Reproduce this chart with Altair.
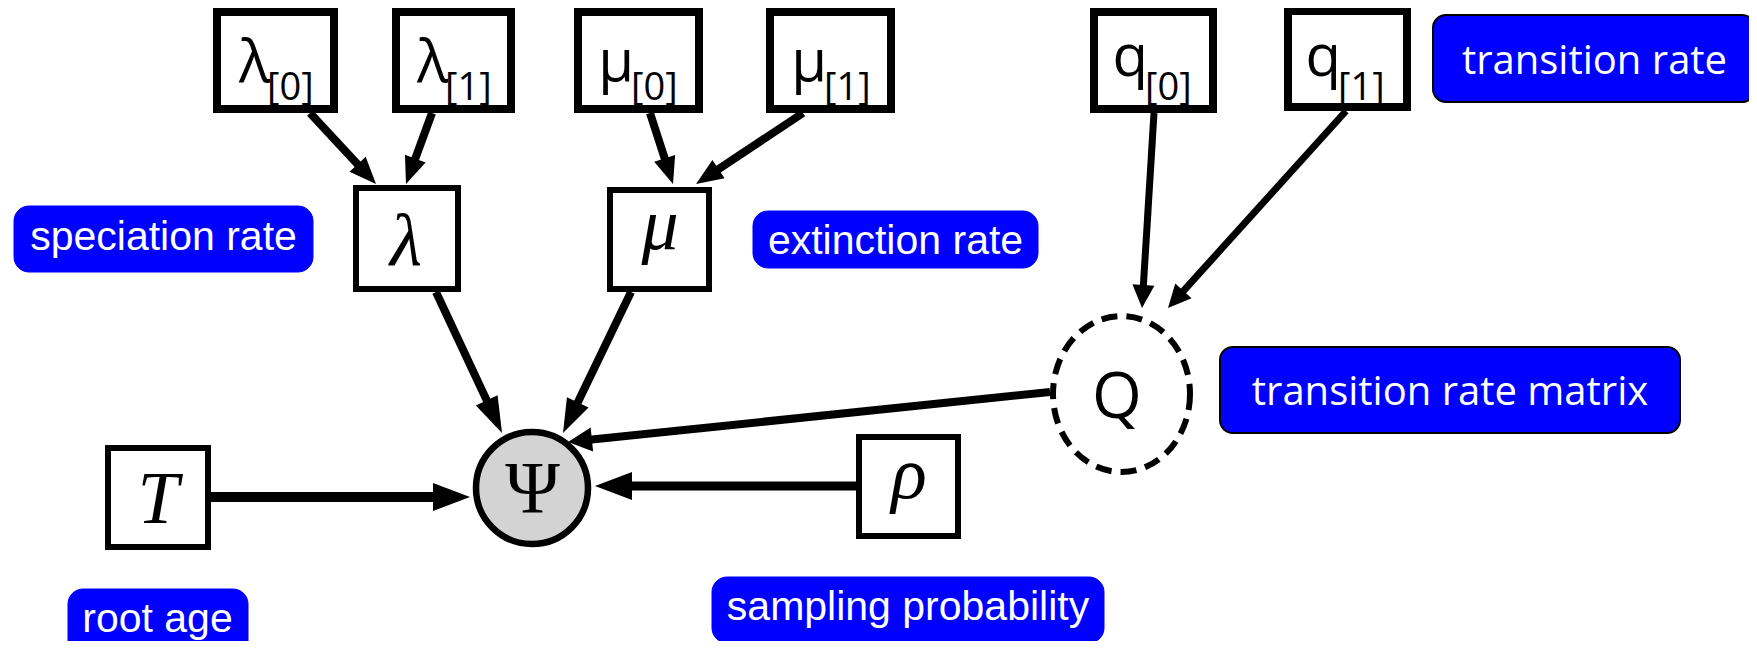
import math
import altair as alt
import pandas as pd

# ---------------- data (diagram coordinates, pixels of the 1757x649 figure) ----------------
box_names = ["λ[0]", "λ[1]", "μ[0]", "μ[1]", "q[0]", "q[1]", "λ", "μ", "T", "ρ"]
box_x0 = [213, 392, 574, 766, 1090, 1284, 353, 607, 105, 856]
box_x1 = [338, 515, 703, 895, 1217, 1411, 461, 712, 211, 961]
box_y0 = [8, 8, 8, 8, 8, 7, 185, 187, 445, 434]
box_y1 = [113, 113, 113, 113, 113, 111, 292, 292, 550, 539]
box_kind = ["top"] * 6 + ["mid"] * 4

# subscripted parameter labels in the top row
top_main = ["λ", "λ", "μ", "μ", "q", "q"]
top_sub = ["[0]", "[1]", "[0]", "[1]", "[0]", "[1]"]
top_split_x = [269, 447, 633, 826, 1147, 1340]
top_main_base = [82, 82, 81, 81, 76, 76]
top_sub_base = [100, 100, 100, 100, 100, 100]

# math symbols in the middle/bottom nodes
sym_text = ["λ", "μ", "T", "ρ", "Ψ"]
sym_x = [406, 660, 158, 909, 532.5]
sym_base = [265, 249, 523, 498, 513]
sym_italic = [True, True, True, True, False]

# the observed node Psi and the deterministic node Q
psi_center = (532, 488)
q_center = (1121.5, 394)

# arrows: start -> tip
arrow_from = ["λ[0]", "λ[1]", "μ[0]", "μ[1]", "λ", "μ", "Q", "T", "ρ", "q[0]", "q[1]"]
arrow_to = ["λ", "λ", "μ", "μ", "Ψ", "Ψ", "Ψ", "Ψ", "Ψ", "Q", "Q"]
arrow_x0 = [310, 432, 650, 803, 436, 631, 1050, 211, 857, 1154, 1346]
arrow_y0 = [113, 113, 113, 113, 292, 292, 392, 497, 486, 113, 111]
arrow_x1 = [376, 406, 673, 696, 502, 563, 568, 470, 595, 1142, 1168]
arrow_y1 = [184, 184, 184, 184, 433, 433, 442, 497, 486, 308, 308]

# blue annotation labels
label_text = ["speciation rate", "extinction rate", "transition rate",
              "transition rate matrix", "root age", "sampling probability"]
label_x0 = [14, 753, 1433, 1220, 68, 712]
label_x1 = [313, 1038, 1755, 1680, 248, 1104]
label_y0 = [206, 211, 15, 347, 589, 577]
label_y1 = [272, 268, 102, 433, 668, 643]
label_cx = [163.5, 895.5, 1594.5, 1450, 157.5, 908]
label_base = [250, 254, 74, 405, 632, 620]
label_font = ["arial", "arial", "calibri", "calibri", "arial", "arial"]

# ---------------- styles ----------------
BOX_STROKE = {"top": 8, "mid": 6}
ARROW_WIDTH = [8, 8, 8, 8, 8, 8, 8, 10, 9, 7, 7]
HEAD_LEN = [27, 27, 27, 27, 36, 34, 24, 37, 37, 23, 23]
HEAD_W = [22, 22, 22, 22, 24, 24, 24, 28, 28, 22, 22]

W, H = 1741, 633
OFF = 8
xs = alt.Scale(domain=[OFF, OFF + W], nice=False, zero=False)
ys = alt.Scale(domain=[OFF, OFF + H], nice=False, zero=False, reverse=True)


def X(f):
    return alt.X(f, type="quantitative", scale=xs, axis=None)


def Y(f):
    return alt.Y(f, type="quantitative", scale=ys, axis=None)


# ---------------- tables ----------------
boxes = pd.DataFrame({"name": box_names, "x0": box_x0, "x1": box_x1,
                      "y0": box_y0, "y1": box_y1, "kind": box_kind})
boxes["sw"] = boxes["kind"].map(BOX_STROKE)
boxes["ix0"] = boxes["x0"] + boxes["sw"] / 2
boxes["ix1"] = boxes["x1"] - boxes["sw"] / 2
boxes["iy0"] = boxes["y0"] + boxes["sw"] / 2
boxes["iy1"] = boxes["y1"] - boxes["sw"] / 2

rows_line, rows_head = [], []
for i in range(len(arrow_from)):
    x0, y0, x1, y1 = arrow_x0[i], arrow_y0[i], arrow_x1[i], arrow_y1[i]
    dx, dy = x1 - x0, y1 - y0
    L = math.hypot(dx, dy)
    ux, uy = dx / L, dy / L
    hl = HEAD_LEN[i]
    rows_line.append({"x0": x0, "y0": y0, "x1": x1 - ux * hl * 0.8,
                      "y1": y1 - uy * hl * 0.8, "w": ARROW_WIDTH[i]})
    ang = math.degrees(math.atan2(dx, -dy)) % 360
    h = HEAD_W[i] / hl
    shape = f"M0,0 L{-h:.3f},2 L{h:.3f},2 Z"
    rows_head.append({"x": x1, "y": y1, "angle": ang, "shape": shape, "size": hl * hl})
lines = pd.DataFrame(rows_line)
heads = pd.DataFrame(rows_head)

labels = pd.DataFrame({"text": label_text, "x0": label_x0, "x1": label_x1,
                       "y0": label_y0, "y1": label_y1, "cx": label_cx,
                       "base": label_base, "font": label_font})

tops = pd.DataFrame({"main": top_main, "sub": top_sub, "x": top_split_x,
                     "mb": top_main_base, "sb": top_sub_base})
syms = pd.DataFrame({"text": sym_text, "x": sym_x, "y": sym_base, "italic": sym_italic})

# ---------------- layers ----------------
lab_rect_a = alt.Chart(labels[labels.font == "arial"]).mark_rect(
    fill="#0000ff", cornerRadius=15, stroke="#0000ff", strokeWidth=1
).encode(x=X("x0"), x2="x1", y=Y("y0"), y2="y1")
lab_rect_c = alt.Chart(labels[labels.font == "calibri"]).mark_rect(
    fill="#0000ff", cornerRadius=13, stroke="black", strokeWidth=2
).encode(x=X("x0"), x2="x1", y=Y("y0"), y2="y1")
lab_text_a = alt.Chart(labels[labels.font == "arial"]).mark_text(
    font="Liberation Sans", fontSize=41, color="white", align="center", baseline="alphabetic"
).encode(x=X("cx"), y=Y("base"), text="text:N")
lab_text_c = alt.Chart(labels[labels.font == "calibri"]).mark_text(
    font="Open Sans", fontSize=40, color="white", align="center", baseline="alphabetic"
).encode(x=X("cx"), y=Y("base"), text="text:N")

rules = alt.Chart(lines).mark_rule(color="black", strokeCap="butt").encode(
    x=X("x0"), y=Y("y0"), x2="x1", y2="y1",
    strokeWidth=alt.StrokeWidth("w:Q", scale=None))

rects = alt.Chart(boxes).mark_rect(fill="white", stroke="black").encode(
    x=X("ix0"), x2="ix1", y=Y("iy0"), y2="iy1",
    strokeWidth=alt.StrokeWidth("sw:Q", scale=None))

psi = alt.Chart(pd.DataFrame({"x": [psi_center[0]], "y": [psi_center[1]]})).mark_point(
    shape="circle", size=112 ** 2, fill="#d3d3d3", stroke="black", strokeWidth=6.5,
    opacity=1, fillOpacity=1
).encode(x=X("x"), y=Y("y"))

a = 68.5 / 78
k = 0.5523
ell = (f"M{a:.4f},0 C{a:.4f},{k:.4f} {a*k:.4f},1 0,1 C{-a*k:.4f},1 {-a:.4f},{k:.4f} {-a:.4f},0 "
       f"C{-a:.4f},{-k:.4f} {-a*k:.4f},-1 0,-1 C{a*k:.4f},-1 {a:.4f},{-k:.4f} {a:.4f},0 Z")
qnode = alt.Chart(pd.DataFrame({"x": [q_center[0]], "y": [q_center[1]]})).mark_point(
    shape=ell, size=(2 * 78) ** 2, fill="white", stroke="black", strokeWidth=6,
    strokeDash=[16, 9], opacity=1, fillOpacity=1
).encode(x=X("x"), y=Y("y"))

head_marks = alt.Chart(heads).mark_point(
    filled=True, color="black", opacity=1, strokeWidth=0
).encode(x=X("x"), y=Y("y"),
         angle=alt.Angle("angle:Q", scale=None),
         shape=alt.Shape("shape:N", scale=None),
         size=alt.Size("size:Q", scale=None))

top_main_t = alt.Chart(tops).mark_text(
    font="Open Sans", fontSize=58, color="black", align="right", baseline="alphabetic", dx=1
).encode(x=X("x"), y=Y("mb"), text="main:N")
top_sub_t = alt.Chart(tops).mark_text(
    font="Open Sans", fontSize=38, color="black", align="left", baseline="alphabetic", dx=-2
).encode(x=X("x"), y=Y("sb"), text="sub:N")

sym_it = alt.Chart(syms[syms.italic]).mark_text(
    font="Liberation Serif", fontStyle="italic", fontSize=74, color="black",
    align="center", baseline="alphabetic"
).encode(x=X("x"), y=Y("y"), text="text:N")
sym_up = alt.Chart(syms[~syms.italic]).mark_text(
    font="Liberation Serif", fontSize=74, color="black",
    align="center", baseline="alphabetic"
).encode(x=X("x"), y=Y("y"), text="text:N")

q_text = alt.Chart(pd.DataFrame({"x": [1117], "y": [418], "t": ["Q"]})).mark_text(
    font="Open Sans", fontSize=64, color="black", align="center", baseline="alphabetic"
).encode(x=X("x"), y=Y("y"), text="t:N")

chart = alt.layer(
    lab_rect_a, lab_rect_c, lab_text_a, lab_text_c,
    rules, rects, psi, qnode, head_marks,
    top_main_t, top_sub_t, sym_it, sym_up, q_text
).properties(width=W, height=H, background="white", padding=0,
             autosize=alt.AutoSizeParams(type="none")
).configure_view(stroke=None)

chart.save("out.html", embed_options={"renderer": "svg", "actions": False})
